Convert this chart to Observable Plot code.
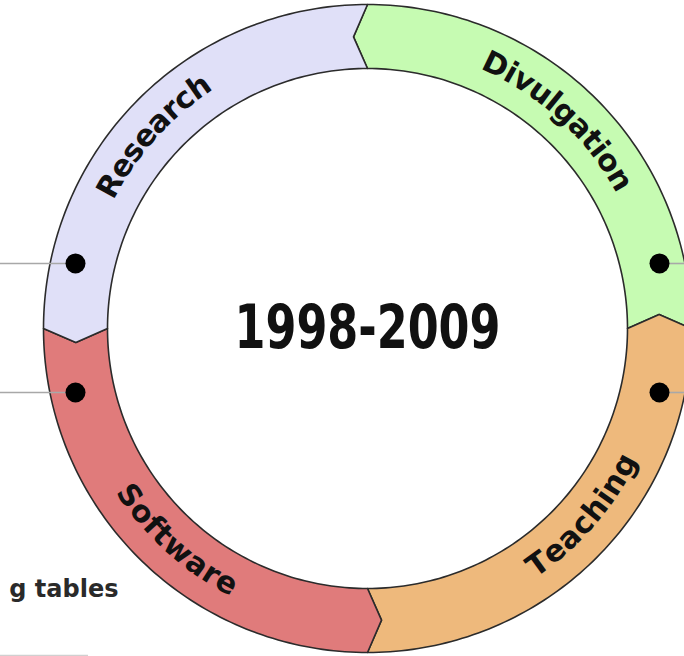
<!DOCTYPE html>
<html>
<head>
<meta charset="utf-8">
<script src="https://cdn.jsdelivr.net/npm/d3@7"></script>
<script src="https://cdn.jsdelivr.net/npm/@observablehq/plot@0.6"></script>
<style>
  html, body { margin: 0; padding: 0; background: #fff; }
  #chart svg { display: block; }
</style>
</head>
<body>
<div id="chart"></div>
<script>
// ---------- data ----------
const segments = ["Divulgation", "Teaching", "Software", "Research"];
const segStart = [0, 90, 180, 270];      // degrees, clockwise from top
const segEnd   = [90, 180, 270, 360];
const segColors = ["#c6fbb2", "#eeb97c", "#e07b7b", "#e0e0f8"];
const centerTitle = "1998-2009";
const sideNote = "g tables";

// ---------- layout ----------
const W = 684, H = 656;
const CX = 367, CY = 328;            // ring centre in pixels
const R_IN = 260, R_OUT = 324, R_MID = 292;
const TIP = 14;                      // chevron depth (px at mid radius)
const labelAngle  = [42.5, 131, 222, 312];
const labelRadius = [293, 291, 291, 294];
const labelDir    = ["cw", "ccw", "ccw", "cw"];
const labelFont = "'DejaVu Sans', sans-serif";
const labelSize = 30;
const connectorRows = [65, -64];     // y of connector dots (y up)
const connectorX = 292;

const rad = d => d * Math.PI / 180;
const pt = (r, a) => ({x: r * Math.sin(rad(a)), y: r * Math.cos(rad(a))});
const tipA = TIP / R_MID * 180 / Math.PI;

// ring polygons
const ring = [];
segments.forEach((name, i) => {
  const a0 = segStart[i], a1 = segEnd[i];
  const pts = [];
  for (let a = a0; a <= a1 + 1e-9; a += 1) pts.push(pt(R_OUT, a));
  pts.push(pt(R_MID, a1 - tipA));
  for (let a = a1; a >= a0 - 1e-9; a -= 1) pts.push(pt(R_IN, a));
  pts.push(pt(R_MID, a0 - tipA));
  pts.push(pt(R_OUT, a0));
  pts.forEach(p => ring.push({...p, name, color: segColors[i]}));
});

// curved labels: one text per letter
const ctx = document.createElement("canvas").getContext("2d");
ctx.font = `bold ${labelSize}px ${labelFont}`;
const letters = [];
segments.forEach((name, i) => {
  const chars = Array.from(name);
  const widths = chars.map(c => ctx.measureText(c).width);
  const total = d3.sum(widths);
  let acc = 0;
  const r = labelRadius[i];
  chars.forEach((c, k) => {
    const s = acc + widths[k] / 2 - total / 2;
    acc += widths[k];
    const dA = s / r * 180 / Math.PI;
    const a = labelDir[i] === "cw" ? labelAngle[i] + dA : labelAngle[i] - dA;
    const p = pt(r, a);
    letters.push({...p, c, rot: labelDir[i] === "cw" ? a : a - 180});
  });
});

const connectors = [];
connectorRows.forEach(y => {
  connectors.push({x1: -CX, x2: -connectorX, y});
  connectors.push({x1: connectorX, x2: W - CX, y});
});
const dots = connectors.map(d => ({x: d.x1 < 0 ? d.x2 : d.x1, y: d.y}));

const plot = Plot.plot({
  width: W, height: H,
  margin: 0,
  x: {domain: [-CX, W - CX], axis: null},
  y: {domain: [CY - H, CY], axis: null},
  style: {background: "#fff"},
  marks: [
    Plot.line(ring, {x: "x", y: "y", z: "name", fill: "color", stroke: "#2b2b2b", strokeWidth: 1.6, curve: "linear"}),
    Plot.ruleY(connectors, {y: "y", x1: "x1", x2: "x2", stroke: "#a8a8a8", strokeWidth: 1.6}),
    Plot.dot(dots, {x: "x", y: "y", r: 10, fill: "#000", stroke: "none"}),
    Plot.text(letters, {x: "x", y: "y", text: "c", rotate: "rot", fontSize: labelSize, fontWeight: "bold",
      fontFamily: labelFont, fill: "#111", textAnchor: "middle", lineAnchor: "middle"}),
    Plot.text([centerTitle], {x: 0, y: 0, text: d => d, fontSize: 60, fontWeight: "bold",
      fontFamily: "'DejaVu Sans Condensed', 'DejaVu Sans', sans-serif", fill: "#111",
      textAnchor: "middle", lineAnchor: "middle"}),
    Plot.text([sideNote], {x: 118 - CX, y: CY - 589, text: d => d, fontSize: 24, fontWeight: "bold",
      fontFamily: labelFont, fill: "#2a2a2a", textAnchor: "end", lineAnchor: "middle"}),
    Plot.ruleY([CY - 655], {x1: -CX, x2: 88 - CX, stroke: "#d0d0d0", strokeWidth: 1.5})
  ]
});
// compress the centre title to the reference's narrow width
plot.querySelectorAll("text").forEach(t => {
  if (t.textContent === centerTitle) {
    t.setAttribute("textLength", 266);
    t.setAttribute("lengthAdjust", "spacingAndGlyphs");
  }
});
document.getElementById("chart").appendChild(plot);
</script>
</body>
</html>
